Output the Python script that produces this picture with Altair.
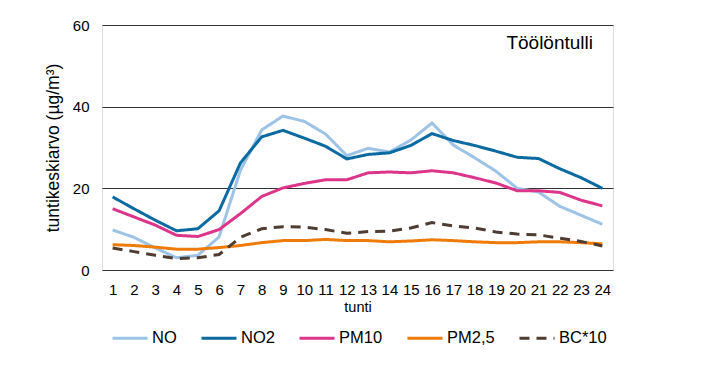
import altair as alt
import pandas as pd

hours = list(range(1, 25))
series_names = ["NO", "NO2", "PM10", "PM2,5", "BC*10"]
no = [9.8, 8.0, 5.4, 3.0, 3.6, 8.1, 24.4, 34.3, 37.7, 36.4, 33.3, 28.0,
      29.8, 28.9, 31.8, 36.0, 30.6, 27.5, 24.2, 20.0, 19.1, 15.6, 13.4, 11.2]
no2 = [17.9, 15.0, 12.2, 9.6, 10.1, 14.5, 26.2, 32.6, 34.2, 32.3, 30.3, 27.2,
       28.3, 28.7, 30.5, 33.4, 31.7, 30.5, 29.1, 27.6, 27.3, 24.8, 22.6, 20.0]
pm10 = [15.0, 13.0, 11.0, 8.5, 8.2, 9.9, 13.8, 18.0, 20.1, 21.2, 22.1, 22.1,
        23.8, 24.0, 23.8, 24.3, 23.8, 22.6, 21.3, 19.4, 19.4, 19.0, 17.1, 15.7]
pm25 = [6.2, 6.0, 5.6, 5.1, 5.1, 5.5, 6.0, 6.7, 7.2, 7.2, 7.5, 7.2,
        7.2, 6.9, 7.1, 7.4, 7.2, 6.9, 6.7, 6.7, 6.9, 6.9, 6.7, 6.4]
bc10 = [5.4, 4.5, 3.6, 2.8, 3.0, 3.8, 8.0, 10.1, 10.6, 10.5, 9.9, 9.0,
        9.4, 9.5, 10.3, 11.6, 10.8, 10.3, 9.3, 8.8, 8.6, 7.8, 7.0, 5.9]
colors = ["#9dc3e6", "#0a6aa1", "#dc358a", "#ef7b0a", "#4f3d31"]
dashes = [[1, 0], [1, 0], [1, 0], [1, 0], [10, 7]]

rows = []
for name, vals in zip(series_names, [no, no2, pm10, pm25, bc10]):
    for h, v in zip(hours, vals):
        rows.append({"tunti": h, "arvo": v, "sarja": name})
df = pd.DataFrame(rows)

font = "Liberation Sans"

lines = alt.Chart(df).mark_line(strokeWidth=3).encode(
    x=alt.X("tunti:O", title="tunti",
            scale=alt.Scale(type="point", padding=0.5),
            axis=alt.Axis(labelAngle=0, ticks=False, domain=False, grid=False,
                          labelFontSize=15, titleFontSize=14.5, labelPadding=12,
                          titlePadding=3, titleFontWeight="normal")),
    y=alt.Y("arvo:Q", title="tuntikeskiarvo (µg/m³)",
            scale=alt.Scale(domain=[0, 60], nice=False),
            axis=alt.Axis(values=[0, 20, 40, 60], ticks=False, domain=False,
                          gridColor="#333333", gridWidth=1, labelFontSize=15,
                          titleFontSize=17.5, labelPadding=13, titlePadding=10,
                          titleFontWeight="normal")),
    color=alt.Color("sarja:N", title=None,
                    scale=alt.Scale(domain=series_names, range=colors),
                    legend=alt.Legend(orient="none", legendX=9, legendY=294,
                                      direction="horizontal", symbolType="stroke",
                                      symbolSize=1225, symbolStrokeWidth=3,
                                      labelFontSize=16.5, columnPadding=18,
                                      labelOffset=3)),
    strokeDash=alt.StrokeDash("sarja:N", title=None,
                              scale=alt.Scale(domain=series_names, range=dashes)),
    order=alt.Order("tunti:O"),
)

label = alt.Chart(pd.DataFrame({"t": ["Töölöntulli"]})).mark_text(
    fontSize=19, align="right", baseline="middle", font=font, color="#000000"
).encode(text="t:N", x=alt.value(491), y=alt.value(18))

chart = (lines + label).properties(
    width=511, height=245,
    autosize=alt.AutoSizeParams(type="none"),
    padding={"left": 94, "top": 17, "right": 80, "bottom": 95},
).configure_view(stroke="#000000", strokeWidth=1.2).configure(
    font=font
).configure_axis(labelColor="#000000", titleColor="#000000",
                 labelFont=font, titleFont=font).configure_legend(
    labelColor="#000000", labelFont=font)

chart.save("out.html", embed_options={"renderer": "svg", "actions": False})
